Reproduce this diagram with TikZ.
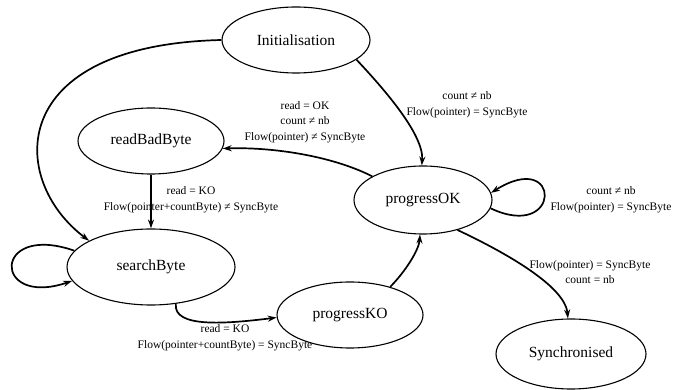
\documentclass[tikz,border=0pt]{standalone}
\usepackage{fontspec}
\setmainfont{Liberation Serif}
\usetikzlibrary{shapes.geometric,arrows.meta}
\begin{document}
\begin{tikzpicture}[x=1pt,y=1pt,
  state/.style={draw,ellipse,line width=1.1pt,inner sep=0pt,font=\fontsize{15.5}{18}\selectfont},
  trans/.style={line width=1.7pt,-{Stealth[length=9pt,width=6pt]}},
  cond/.style={align=center,inner sep=0pt,font=\fontsize{11.5}{15.5}\selectfont}]
\useasboundingbox (0,0) rectangle (674,390);

% states
\node[state,minimum width=148pt,minimum height=66pt] (init) at (296,350) {Initialisation};
\node[state,minimum width=146pt,minimum height=66pt] (rbb)  at (151,249) {readBadByte};
\node[state,minimum width=138pt,minimum height=68pt] (pok)  at (423,190) {progressOK};
\node[state,minimum width=168pt,minimum height=76pt] (sb)   at (151,123) {searchByte};
\node[state,minimum width=146pt,minimum height=66pt] (pko)  at (350,75)  {progressKO};
\node[state,minimum width=150pt,minimum height=70pt] (sync) at (571,36)  {Synchronised};

% transitions
\draw[trans] (init.180) .. controls (5,345) and (8,210) .. (sb.157);
\draw[trans] (init.-18) .. controls (385,300) and (424,255) .. (pok.92);
\draw[trans] (pok.155) .. controls (330,235) and (270,243) .. (rbb.-6);
\draw[trans] (rbb.south) -- (sb.north);
\draw[trans] (sb.168) .. controls (-8,168) and (-8,82) .. (sb.190);
\draw[trans] (sb.-56) .. controls (173,62) and (225,66) .. (pko.182);
\draw[trans] (pko.35) .. controls (405,118) and (419,140) .. (pok.265);
\draw[trans] (pok.-7) .. controls (562,148) and (562,242) .. (pok.6);
\draw[trans] (pok.-41) .. controls (500,140) and (565,105) .. (sync.95);

% guard conditions
\node[cond] (c1) at (467,285) {count ≠ nb\\Flow(pointer) = SyncByte};
\node[cond] (c2) at (305,268) {read = OK\\count ≠ nb\\Flow(pointer) ≠ SyncByte};
\node[cond] (c3) at (191,190) {read = KO\\Flow(pointer+countByte) ≠ SyncByte};
\node[cond] (c4) at (225,52)  {read = KO\\Flow(pointer+countByte) = SyncByte};
\node[cond] (c5) at (611,190) {count ≠ nb\\Flow(pointer) = SyncByte};
\node[cond] (c6) at (590,118) {Flow(pointer) = SyncByte\\count = nb};
\end{tikzpicture}
\end{document}
